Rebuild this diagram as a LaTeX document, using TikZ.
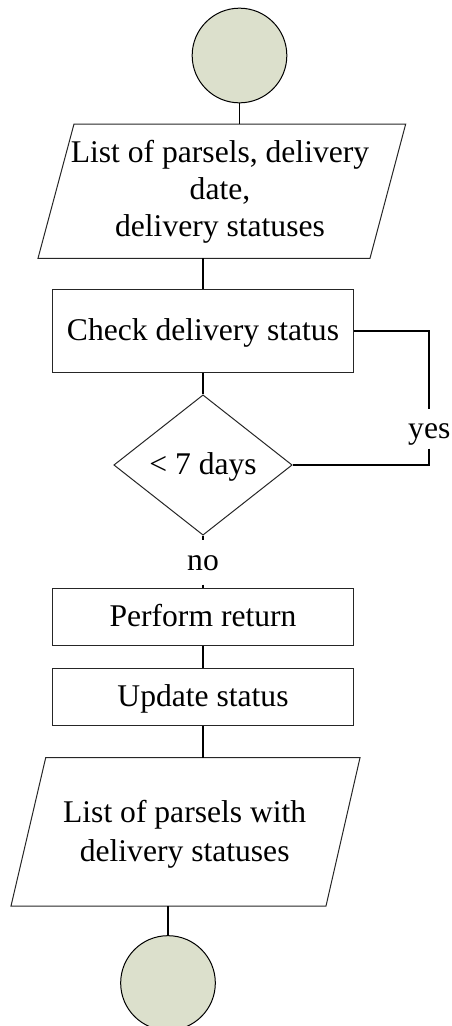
\documentclass[tikz,border=0pt]{standalone}
\usepackage{fontspec}
\setmainfont{Liberation Serif}
\usetikzlibrary{shapes.geometric}
\definecolor{termfill}{RGB}{220,224,204}
\tikzset{
  outline/.style={draw=black!85, line width=0.75pt},
  terminal/.style={circle, draw=black, line width=0.75pt, fill=termfill, minimum size=71pt, inner sep=0pt},
  procbox/.style={rectangle, outline, minimum width=226pt, inner sep=0pt, text height=19.5pt, text depth=5.25pt},
  decision/.style={diamond, outline, minimum width=133.8pt, minimum height=99.5pt, inner sep=0pt, text height=19.5pt, text depth=5.25pt},
  flow/.style={draw=black, line width=1.3pt},
  branch/.style={inner sep=0pt, anchor=base},
  iotext/.style={align=center, inner sep=0pt},
}
\begin{document}
\begin{tikzpicture}[x=0.75pt, y=-0.75pt, font=\fontsize{23.7}{28}\selectfont]
\path[use as bounding box, clip] (0,0) rectangle (451,1026);

% start terminal
\node[terminal] (start) at (239.5,55.5) {};

% input data
\coordinate (inNW) at (74,124);
\coordinate (inNE) at (405.7,124);
\coordinate (inSE) at (370,258.3);
\coordinate (inSW) at (38,258.3);
\draw[outline] (inNW) -- (inNE) -- (inSE) -- (inSW) -- cycle;
\node[iotext, font=\fontsize{23.7}{27.9}\selectfont] (intext) at (220,191.5)
  {List of parsels, delivery\\date,\\delivery statuses};

% processing steps
\node[procbox, minimum height=62pt] (check) at (203,330.7) {Check delivery status};
\node[decision] (dia) at (203,465) {< 7 days};
\node[branch, text height=22pt, text depth=7.5pt] (yes) at (429.3,438.3) {yes};
\node[branch, text height=22.5pt, text depth=10.7pt] (no) at (203,570) {no};
\node[procbox, minimum height=42.5pt] (ret) at (203,616.7) {Perform return};
\node[procbox, minimum height=42.5pt] (upd) at (203,697) {Update status};

% output data
\coordinate (outNW) at (45.7,757.7);
\coordinate (outNE) at (360,757.7);
\coordinate (outSE) at (326,906);
\coordinate (outSW) at (11,906);
\draw[outline] (outNW) -- (outNE) -- (outSE) -- (outSW) -- cycle;
\node[iotext, font=\fontsize{23.7}{28.8}\selectfont] (outtext) at (184.7,834.2)
  {List of parsels with\\delivery statuses};

% end terminal
\node[terminal] (stop) at (168,983) {};

% connectors
\draw[flow] (start.south) -- (start.south |- inNW);
\draw[flow] (check.north |- inSW) -- (check.north);
\draw[flow] (check.south) -- (dia.north);
\draw[flow] (check.east) -| (yes.north);
\draw[flow] (yes.south) |- (dia.east);
\draw[flow] (dia.south) -- (no.north);
\draw[flow] (no.south) -- (ret.north);
\draw[flow] (ret.south) -- (upd.north);
\draw[flow] (upd.south) -- (upd.south |- outNW);
\draw[flow] (stop.north |- outSW) -- (stop.north);
\end{tikzpicture}
\end{document}
